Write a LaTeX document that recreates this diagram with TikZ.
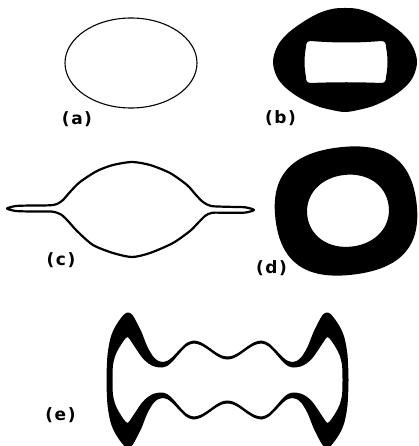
\documentclass[tikz,border=0pt]{standalone}
\usepackage{fontspec}
\setmainfont{DejaVu Sans}
\newcommand\plab[1]{(\hspace{1.5pt}#1\hspace{1.5pt})}
\begin{document}
\begin{tikzpicture}[x=1pt,y=-1pt,
  lab/.style={font=\fontsize{17}{17}\selectfont\bfseries, inner sep=0pt},
  thinline/.style={draw=black, line width=1.1pt},
  outline/.style={draw=black, line width=2.2pt, line join=round},
  solid/.style={fill=black, even odd rule}]
\useasboundingbox (0,0) rectangle (418,446);
\clip (0,0) rectangle (418,446);

% (a) ellipse
\draw[thinline] (131,63) ellipse [x radius=66, y radius=45];
\node[lab] (la) at (77,119) {\plab{a}};

% (b) rounded diamond with window
\fill[solid] plot[smooth cycle, tension=0.6] coordinates {
  (273,62) (277,47) (286,35) (300,24) (317,14) (332,9) (345,8) (358,9)
  (373,14) (390,24) (404,35) (413,47) (417,62) (413,77) (404,88) (390,98)
  (373,106) (358,110) (345,112) (332,110) (317,106) (300,98) (286,88) (277,77)}
  (311,41) .. controls (335,43) and (358,43) .. (381,41)
  .. controls (385,41) and (386,43) .. (386,47)
  .. controls (388,57) and (388,67) .. (386,77)
  .. controls (386,81) and (385,83) .. (381,83)
  .. controls (358,82) and (335,82) .. (311,83)
  .. controls (307,83) and (306,81) .. (306,77)
  .. controls (304,67) and (304,57) .. (306,47)
  .. controls (306,43) and (307,41) .. (311,41) -- cycle;
\node[lab] (lb) at (280.5,118.5) {\plab{b}};

% (c) lens with spikes
\draw[outline] plot[smooth cycle, tension=0.45] coordinates {
  (7,208.5) (16,206) (32,205.5) (50,205.3) (57,204) (63,200) (70,192)
  (80,182) (97,171) (113,165) (132,162) (150,165) (170,173) (187,185)
  (196,195) (203,202) (211,206) (228,206.8) (245,207.3) (254,210)
  (245,212.6) (228,212.8) (212,212.8) (205,216) (197,224) (190,231)
  (173,243) (150,253) (132,257) (113,253) (93,245) (77,231) (68,221)
  (61,214.5) (52,211.6) (32,211.5) (16,211)};
\node[lab] (lc) at (61,260) {\plab{c}};

% (d) thick ring
\begin{scope}[rotate around={7:(346,211)}]
\fill[solid]
  (417,211) .. controls (417,254.5) and (394.3,275) .. (346,275)
  .. controls (297.7,275) and (275,254.5) .. (275,211)
  .. controls (275,167.5) and (297.7,147) .. (346,147)
  .. controls (394.3,147) and (417,167.5) .. (417,211) -- cycle
  (389,211) .. controls (389,231.9) and (371.8,247) .. (348,247)
  .. controls (324.2,247) and (307,231.9) .. (307,211)
  .. controls (307,190.1) and (324.2,175) .. (348,175)
  .. controls (371.8,175) and (389,190.1) .. (389,211) -- cycle;
\end{scope}
\node[lab] (ld) at (271.5,268) {\plab{d}};

% (e) wavy dumbbell
\begin{scope}[shift={(227.5,380)}]
\fill[solid] plot[smooth cycle, tension=0.5] coordinates {
  (-121,0) (-120,-25) (-117,-42) (-113,-52) (-108,-60) (-103,-66) (-99,-67.5)
  (-95,-65) (-91,-58) (-86,-48) (-80,-33) (-74,-23) (-69,-19) (-65,-18)
  (-60,-19.3) (-55,-23) (-48,-30.4) (-41,-36.9) (-34,-39.5) (-27,-37.9)
  (-20,-33.7) (-12,-28) (-6,-24.7) (0,-23.5)
  (6,-24.7) (12,-28) (20,-33.7) (27,-37.9) (34,-39.5) (41,-36.9) (48,-30.4)
  (55,-23) (60,-19.3) (65,-18) (69,-19) (74,-23) (80,-33) (86,-48) (91,-58)
  (95,-65) (99,-67.5) (103,-66) (108,-60) (113,-52) (117,-42) (120,-25) (121,0)
  (120,25) (117,42) (113,52) (108,60) (103,66) (99,67.5) (95,65) (91,58)
  (86,48) (80,33) (74,23) (69,19) (65,18) (60,19.3) (55,23) (48,30.4)
  (41,36.9) (34,39.5) (27,37.9) (20,33.7) (12,28) (6,24.7) (0,23.5)
  (-6,24.7) (-12,28) (-20,33.7) (-27,37.9) (-34,39.5) (-41,36.9) (-48,30.4)
  (-55,23) (-60,19.3) (-65,18) (-69,19) (-74,23) (-80,33) (-86,48) (-91,58)
  (-95,65) (-99,67.5) (-103,66) (-108,60) (-113,52) (-117,42) (-120,25)}
  plot[smooth cycle, tension=0.5] coordinates {
  (-115,0) (-114.5,-15) (-112,-25) (-108.5,-32) (-104,-39) (-100,-43)
  (-96,-38) (-90,-29) (-85,-22) (-79,-16.5) (-73,-13.5) (-65.5,-12.5)
  (-60,-14.3) (-55,-18.5) (-48,-26.6) (-41,-33.7) (-34,-36.5) (-27,-34.9)
  (-20,-30.7) (-12,-25) (-6,-21.7) (0,-20.5)
  (6,-21.7) (12,-25) (20,-30.7) (27,-34.9) (34,-36.5) (41,-33.7) (48,-26.6)
  (55,-18.5) (60,-14.3) (65.5,-12.5) (73,-13.5) (79,-16.5) (85,-22) (90,-29)
  (96,-38) (100,-43) (104,-39) (108.5,-32) (112,-25) (114.5,-15) (115,0)
  (114.5,15) (112,25) (108.5,32) (104,39) (100,43) (96,38) (90,29) (85,22)
  (79,16.5) (73,13.5) (65.5,12.5) (60,14.3) (55,18.5) (48,26.6) (41,33.7)
  (34,36.5) (27,34.9) (20,30.7) (12,25) (6,21.7) (0,20.5)
  (-6,21.7) (-12,25) (-20,30.7) (-27,34.9) (-34,36.5) (-41,33.7) (-48,26.6)
  (-55,18.5) (-60,14.3) (-65.5,12.5) (-73,13.5) (-79,16.5) (-85,22) (-90,29)
  (-96,38) (-100,43) (-104,39) (-108.5,32) (-112,25) (-114.5,15)};
\end{scope}
\node[lab] (le) at (60.5,415.5) {\plab{e}};
\end{tikzpicture}
\end{document}
